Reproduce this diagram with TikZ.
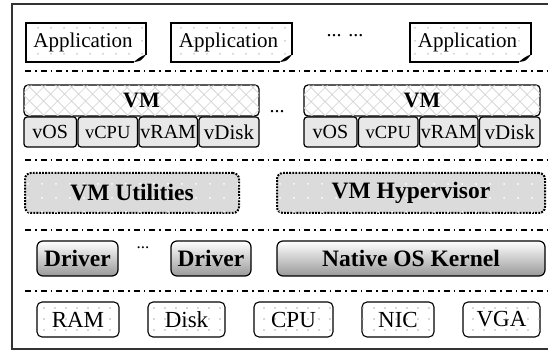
\documentclass[tikz,border=0pt]{standalone}
\usepackage{fontspec}
\setmainfont{Liberation Serif}
\usetikzlibrary{patterns.meta}
\pgfdeclarelayer{bg}
\pgfdeclarelayer{bgbase}
\pgfsetlayers{bgbase,bg,main}
\tikzset{
  frameline/.style={draw=black!80, line width=1.5pt},
  sepline/.style={line width=1.3pt, dash pattern=on 6pt off 4pt on 1.5pt off 4pt},
  apptext/.style={font=\fontsize{21}{24}\selectfont},
  vmtop/.style={draw, line width=1.2pt, rounded corners=4pt, fill=white,
    postaction={pattern={Hatch[angle=45,distance=10.5pt,line width=0.7pt]}, pattern color=black!18},
    font=\fontsize{22}{24}\selectfont\bfseries},
  vsub/.style={draw, line width=1.2pt, rounded corners=3pt, fill=black!9},
  utilbox/.style={draw, line width=2pt, dash pattern=on 1.8pt off 1.3pt, rounded corners=6pt, fill=black!14,
    postaction={pattern={Dots[distance=14pt,radius=1pt]}, pattern color=white},
    font=\fontsize{23.5}{26}\selectfont\bfseries},
  kernbox/.style={draw, line width=1.2pt, rounded corners=6pt, top color=white, bottom color=black!40,
    font=\fontsize{23.5}{26}\selectfont\bfseries},
  hwbox/.style={draw, line width=1.1pt, rounded corners=5pt, fill=white,
    postaction={pattern={Dots[distance=11pt,radius=0.8pt]}, pattern color=black!30},
    font=\fontsize{23}{26}\selectfont},
  dotstext/.style={font=\fontsize{20}{22}\selectfont, inner sep=0pt, anchor=base},
}
% style, name, left, top, right, bottom, text
\newcommand\bx[7]{\node[#1, inner sep=0pt, minimum width={#5-#3}, minimum height={#6-#4}] (#2) at ({(#3+#5)/2},{(#4+#6)/2}) {#7};}
% name, left, top, right, bottom
\newcommand\appbox[5]{%
  \begin{pgfonlayer}{bg}
  \path[fill=white, postaction={pattern={Dots[distance=13pt,radius=0.8pt]}, pattern color=black!35}]
    (#2,#3) -- (#4,#3) -- (#4,#5-7) -- (#4-12,#5) -- (#2,#5) -- cycle;
  \draw[line width=1.2pt] (#4-12,#5) -- (#2,#5) -- (#2,#3) -- (#4,#3) -- (#4,#5-7);
  \fill (#4,#5-7.5) .. controls (#4-5,#5-6) and (#4-9,#5-3) .. (#4-12.5,#5+0.6) -- (#4-12,#5) .. controls (#4-5,#5-1) .. (#4,#5-7.5) -- cycle;
  \end{pgfonlayer}
  \node[apptext, inner sep=0pt] (#1) at ({(#2+#4)/2-3},{(#3+#5)/2}) {Application};
}
\begin{document}
\begin{tikzpicture}[x=1pt,y=-1pt]
\useasboundingbox (0,0) rectangle (548,352);
\begin{pgfonlayer}{bgbase}
\fill[white] (0,0) rectangle (548,352);
\end{pgfonlayer}
% outer frame
\coordinate (ftr) at (552,4);
\coordinate (ftl) at (12,4);
\coordinate (fbl) at (12,349);
\coordinate (fbr) at (552,349);
\draw[frameline] (ftr) -- (ftl) -- (fbl) -- (fbr);

% row 1: applications
\appbox{app1}{26}{23}{146}{62}
\appbox{app2}{171}{23}{292}{62}
\appbox{app3}{410}{23}{531}{62}
\node[dotstext] (appdots) at (345,37) {... ...};

% separators
\coordinate (s1l) at (25,71);  \coordinate (s1r) at (548,71);
\coordinate (s2l) at (25,160); \coordinate (s2r) at (548,160);
\coordinate (s3l) at (25,230); \coordinate (s3r) at (548,230);
\coordinate (s4l) at (25,291); \coordinate (s4r) at (548,291);
\draw[sepline] (s1l) -- (s1r);
\draw[sepline] (s2l) -- (s2r);
\draw[sepline] (s3l) -- (s3r);
\draw[sepline] (s4l) -- (s4r);

% row 2: VMs
\bx{vmtop}{vm1}{24}{85}{259}{116}{VM}
\bx{vsub,font=\fontsize{20}{22}\selectfont}{vos1}{24}{117}{76.5}{147}{vOS}
\bx{vsub,font=\fontsize{18.5}{22}\selectfont}{vcpu1}{78}{117}{137.5}{147}{vCPU}
\bx{vsub,font=\fontsize{20}{22}\selectfont}{vram1}{139}{117}{197.5}{147}{vRAM}
\bx{vsub,font=\fontsize{21}{22}\selectfont}{vdisk1}{199}{117}{259}{147}{vDisk}
\node[dotstext] (vmdots) at (277,113) {...};
\bx{vmtop}{vm2}{304}{85}{540}{116}{VM}
\bx{vsub,font=\fontsize{20}{22}\selectfont}{vos2}{304}{117}{357}{147}{vOS}
\bx{vsub,font=\fontsize{18.5}{22}\selectfont}{vcpu2}{358.5}{117}{418}{147}{vCPU}
\bx{vsub,font=\fontsize{20}{22}\selectfont}{vram2}{419.5}{117}{478}{147}{vRAM}
\bx{vsub,font=\fontsize{21}{22}\selectfont}{vdisk2}{479.5}{117}{540}{147}{vDisk}

% row 3
\bx{utilbox}{util}{25}{173}{239}{213}{VM Utilities}
\bx{utilbox}{hyper}{277}{173}{545}{213}{VM Hypervisor}

% row 4
\bx{kernbox}{drv1}{37}{241}{118}{276}{Driver}
\node[dotstext, font=\fontsize{17}{20}\selectfont] (drvdots) at (143,249) {...};
\bx{kernbox}{drv2}{171}{241}{251}{276}{Driver}
\bx{kernbox}{kernel}{277}{241}{545}{276}{Native OS Kernel}

% row 5
\bx{hwbox}{ram}{37}{302}{119}{337}{RAM}
\bx{hwbox}{disk}{148}{302}{225}{337}{Disk}
\bx{hwbox}{cpu}{254}{302}{333}{337}{CPU}
\bx{hwbox}{nic}{362}{302}{434}{337}{NIC}
\bx{hwbox}{vga}{463}{302}{540}{337}{VGA}
\end{tikzpicture}
\end{document}
